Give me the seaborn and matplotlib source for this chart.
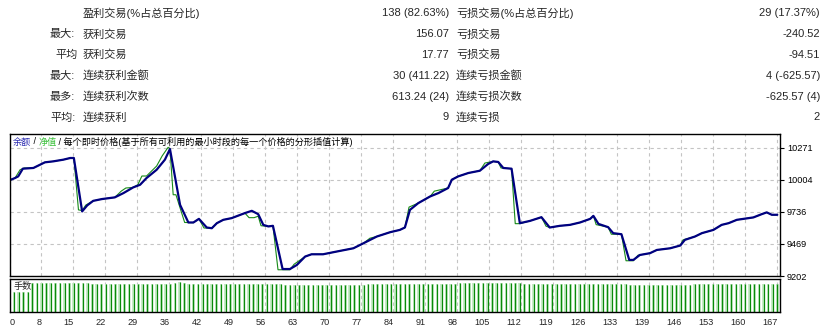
import matplotlib
matplotlib.use("Agg")
import matplotlib.pyplot as plt
import seaborn as sns

# --- summary table ---
row_prefix = ['', '最大:', '平均', '最大:', '最多:', '平均:']
win_labels = ['盈利交易(%占总百分比)', '获利交易', '获利交易', '连续获利金额', '连续获利次数', '连续获利']
win_values = ['138 (82.63%)', '156.07', '17.77', '30 (411.22)', '613.24 (24)', '9']
loss_labels = ['亏损交易(%占总百分比)', '亏损交易', '亏损交易', '连续亏损金额', '连续亏损次数', '连续亏损']
loss_values = ['29 (17.37%)', '-240.52', '-94.51', '4 (-625.57)', '-625.57 (4)', '2']

# --- balance curve (trade number, balance) ---
bal_x = [0, 1.2, 1.9, 2.9, 5.2, 7.7, 9.5, 11.7, 13.2, 14.0,
         15.8, 16.9, 18.2, 20.1, 22.9, 24.8, 26.9, 28.4, 29.8, 32.0,
         33.8, 34.9, 37.1, 38.9, 40.0, 41.2, 42.9, 44.0, 45.1, 46.5,
         48.3, 51.2, 52.7, 54.1, 55.2, 56.3, 57.3, 59.4, 61.0, 62.5,
         64.3, 65.7, 68.2, 71.2, 74.8, 77.0, 79.9, 82.8, 84.9, 86.0,
         87.1, 88.9, 91.5, 93.3, 95.4, 96.2, 97.6, 99.8, 102.3, 104.1,
         105.2, 106.3, 107.4, 109.2, 111.0, 113.2, 115.7, 117.5, 119.7, 121.9,
         124.1, 126.3, 127.0, 128.1, 130.2, 131.3, 133.1, 134.8, 135.7, 137.1,
         139.3, 140.8, 143.7, 145.9, 146.9, 149.1, 150.6, 153.1, 154.9, 156.4,
         158.2, 161.8, 163.6, 164.7, 165.8, 167.0]
bal_y = [10000, 10018, 10032, 10096, 10102, 10149, 10157, 10171, 10185, 10185,
         9740, 9790, 9828, 9843, 9857, 9893, 9940, 9962, 10018, 10087,
         10171, 10260, 9795, 9648, 9648, 9678, 9606, 9600, 9642, 9670,
         9684, 9726, 9745, 9717, 9628, 9615, 9620, 9260, 9260, 9294,
         9364, 9383, 9383, 9406, 9433, 9475, 9531, 9567, 9586, 9606,
         9753, 9809, 9865, 9893, 9935, 10004, 10032, 10060, 10079, 10135,
         10157, 10152, 10102, 10096, 9642, 9661, 9692, 9606, 9620, 9628,
         9648, 9678, 9703, 9636, 9609, 9559, 9550, 9336, 9336, 9377,
         9392, 9419, 9433, 9456, 9503, 9531, 9559, 9586, 9628, 9642,
         9670, 9690, 9717, 9732, 9712, 9712]

# --- equity curve ---
eq_x = [0, 1.2, 2.3, 3.2, 5.2, 7.7, 9.5, 11.7, 13.2, 14.0,
        15.0, 15.8, 16.6, 18.2, 20.1, 22.9, 24.3, 25.3, 26.9, 27.9,
        28.8, 29.8, 32.0, 33.2, 34.5, 34.9, 35.6, 36.2, 38.1, 40.0,
        41.2, 42.3, 44.0, 45.1, 46.5, 48.3, 51.2, 52.1, 53.2, 54.1,
        54.7, 56.3, 57.3, 58.4, 61.0, 61.9, 64.3, 65.7, 68.2, 71.2,
        74.8, 77.0, 78.4, 79.9, 82.8, 84.9, 86.0, 86.9, 88.9, 91.5,
        92.4, 95.4, 96.2, 97.6, 99.8, 102.3, 103.4, 105.2, 106.3, 106.9,
        109.2, 110.0, 111.0, 113.2, 115.7, 116.7, 117.5, 119.7, 121.9, 124.1,
        126.3, 127.0, 127.6, 130.2, 130.9, 133.1, 134.1, 135.7, 136.7, 139.3,
        140.8, 143.7, 145.9, 146.5, 149.1, 150.6, 153.1, 154.9, 156.4, 158.2,
        161.8, 163.6, 164.7, 165.8, 167.0]
eq_y = [10000, 10018, 10087, 10102, 10102, 10149, 10157, 10171, 10185, 10185,
        9753, 9747, 9793, 9828, 9843, 9857, 9909, 9935, 9940, 9962,
        10035, 10035, 10118, 10202, 10274, 10260, 9879, 9879, 9648, 9646,
        9678, 9602, 9600, 9642, 9670, 9684, 9726, 9688, 9688, 9700,
        9621, 9615, 9620, 9254, 9254, 9300, 9364, 9383, 9383, 9406,
        9433, 9475, 9517, 9531, 9567, 9586, 9606, 9776, 9809, 9865,
        9909, 9935, 10004, 10032, 10060, 10079, 10143, 10157, 10152, 10102,
        10096, 9638, 9638, 9661, 9692, 9617, 9606, 9620, 9628, 9648,
        9678, 9703, 9630, 9609, 9550, 9550, 9329, 9329, 9375, 9392,
        9419, 9433, 9456, 9503, 9531, 9559, 9586, 9628, 9642, 9670,
        9690, 9717, 9732, 9712, 9712]

# --- lot sizes per trade (panel units) ---
lots = [0.20, 0.20, 0.20, 0.20,
        0.29, 0.29, 0.29, 0.29, 0.29, 0.29, 0.29, 0.29, 0.29, 0.29, 0.29, 0.29, 0.29,
        0.28, 0.28, 0.28, 0.28, 0.28, 0.28, 0.28, 0.28, 0.28, 0.28, 0.28, 0.28, 0.28,
        0.28, 0.28, 0.28, 0.28, 0.28,
        0.29, 0.30, 0.29,
        0.28, 0.28, 0.28, 0.28, 0.28, 0.28, 0.28, 0.28, 0.28, 0.28, 0.28, 0.28, 0.28,
        0.28, 0.28, 0.28, 0.28, 0.28, 0.28, 0.28, 0.28,
        0.27, 0.27, 0.27, 0.27, 0.27, 0.27, 0.27, 0.27, 0.27, 0.27, 0.27, 0.27, 0.27,
        0.27, 0.27, 0.27, 0.27, 0.27,
        0.28, 0.28, 0.28, 0.28, 0.28, 0.28, 0.28, 0.28, 0.28, 0.28, 0.28,
        0.28, 0.28, 0.28, 0.28, 0.28, 0.28, 0.28, 0.28, 0.28,
        0.29, 0.29, 0.29, 0.29, 0.29, 0.29, 0.29, 0.29, 0.29, 0.29, 0.29, 0.29, 0.29, 0.29,
        0.28, 0.28, 0.28, 0.28, 0.28, 0.28, 0.28, 0.28, 0.28, 0.28, 0.28, 0.28, 0.28,
        0.28, 0.28, 0.28, 0.28, 0.28, 0.28, 0.28, 0.28, 0.28, 0.28,
        0.27, 0.27, 0.27, 0.27, 0.27, 0.27, 0.27, 0.27, 0.27, 0.27, 0.27, 0.27, 0.27, 0.27,
        0.28, 0.28, 0.28, 0.28, 0.28, 0.28, 0.28, 0.28, 0.28, 0.28, 0.28, 0.28, 0.28,
        0.28, 0.28, 0.28, 0.28, 0.28, 0.28]
lot_trade = list(range(1, len(lots) + 1))

y_ticks = [9202, 9469, 9736, 10004, 10271]
x_tick_labels = ['0', '8', '15', '22', '29', '36', '42', '49', '56', '63', '70', '77',
                 '84', '91', '98', '105', '112', '119', '126', '133', '139', '146',
                 '153', '160', '167']
n_trades = 167

sns.set_style("white")
plt.rcParams['font.family'] = ['Liberation Sans', 'Noto Sans CJK SC', 'DejaVu Sans']

W, H = 834, 330
fig = plt.figure(figsize=(W / 100, H / 100), dpi=100)


def px(x, y):
    return x / W, 1 - y / H


# table
fs = 8
for i in range(6):
    y = 13.5 + i * 20.8
    if row_prefix[i]:
        fig.text(*px(50 if row_prefix[i].endswith(':') else 55, y), row_prefix[i],
                 fontsize=fs, va='center', ha='left')
    fig.text(*px(83, y), win_labels[i], fontsize=fs, va='center', ha='left')
    fig.text(*px(449, y), win_values[i], fontsize=fs, va='center', ha='right')
    fig.text(*px(456, y), loss_labels[i], fontsize=fs, va='center', ha='left')
    fig.text(*px(820, y), loss_values[i], fontsize=fs, va='center', ha='right')

left, right = 9.5, 780
ax = fig.add_axes([left / W, 1 - 276 / H, (right - left) / W, (276 - 134) / H])
axl = fig.add_axes([left / W, 1 - 312 / H, (right - left) / W, (312 - 279) / H])

x_max = n_trades * (right - left) / (777.3 - left)
tick_pos = [k * n_trades / 24 for k in range(25)]
grid_kw = dict(color='#c4c4c4', linestyle=(0, (3, 3)), linewidth=0.8)

sns.lineplot(x=eq_x, y=eq_y, ax=ax, color='#178a17', linewidth=0.8, sort=False)
sns.lineplot(x=bal_x, y=bal_y, ax=ax, color='#000080', linewidth=1.6, sort=False)
ax.set_xlim(0, x_max)
ax.set_ylim(9202, 10385)
ax.set_xticks(tick_pos)
ax.set_yticks(y_ticks)
ax.set_yticklabels([str(v) for v in y_ticks])
ax.yaxis.tick_right()
ax.tick_params(axis='x', length=0, labelbottom=False)
ax.tick_params(axis='y', length=3, width=0.8, pad=2, labelsize=6.6, colors='black')
ax.grid(True, **grid_kw)
ax.set_axisbelow(True)
for s in ax.spines.values():
    s.set_color('black')
    s.set_linewidth(1.0)

# legend line inside chart
lfs = 6.6
t1 = ax.text(3 / (right - left), 1 - 8 / 142, '余额', transform=ax.transAxes,
             fontsize=lfs, color='#2a2ab0', va='center', ha='left')
t2 = ax.annotate(' / ', xy=(1, 0.5), xycoords=t1, fontsize=lfs, color='black',
                 va='center', ha='left')
t3 = ax.annotate('净值', xy=(1, 0.5), xycoords=t2, fontsize=lfs, color='#3cc03c',
                 va='center', ha='left')
ax.annotate(' / 每个即时价格(基于所有可利用的最小时段的每一个价格的分形插值计算)',
            xy=(1, 0.5), xycoords=t3, fontsize=lfs, color='black', va='center', ha='left')

# lots panel
axl.bar(lot_trade, lots, width=0.6, color='#c6ecc6', linewidth=0)
axl.vlines(lot_trade, 0, lots, color='#0a8a0a', linewidth=0.9)
axl.set_xlim(0, x_max)
axl.set_ylim(0, 0.33)
axl.set_yticks([])
axl.set_xticks(tick_pos)
axl.set_xticklabels(x_tick_labels, ha='right')
axl.get_xticklabels()[0].set_ha('left')
axl.tick_params(axis='x', length=3, width=0.8, pad=1, labelsize=6.6)
axl.grid(True, axis='x', **grid_kw)
axl.set_axisbelow(True)
for s in axl.spines.values():
    s.set_color('black')
    s.set_linewidth(1.0)
axl.text(4 / (right - left), 1 - 8 / 33, '手数', transform=axl.transAxes,
         fontsize=lfs, va='center', ha='left')

fig.savefig('out.png', dpi=100)
